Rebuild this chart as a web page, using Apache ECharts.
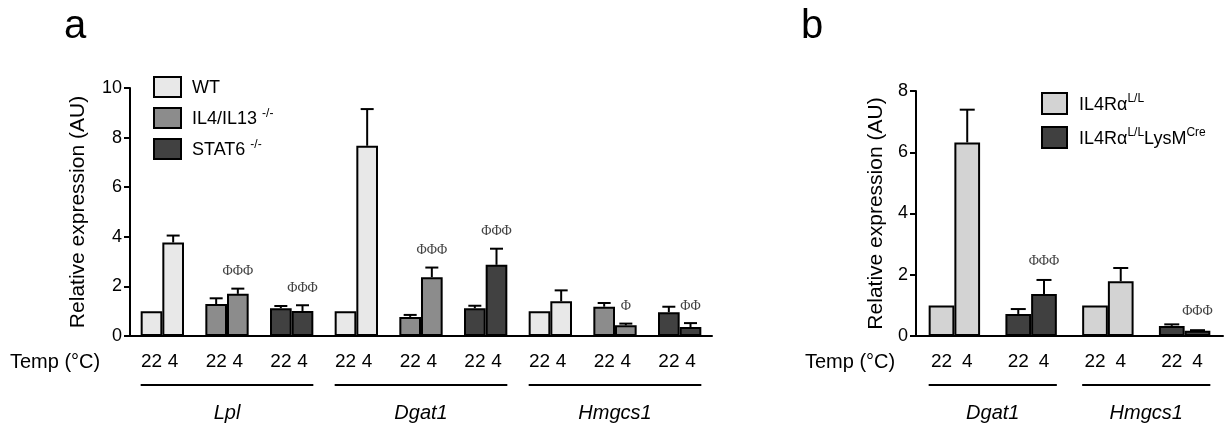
<!DOCTYPE html>
<html><head><meta charset="utf-8">
<script src="https://cdn.jsdelivr.net/npm/echarts@6/dist/echarts.min.js"></script>
<style>html,body{margin:0;padding:0;background:#fff}#c{width:1227px;height:427px}</style>
</head><body><div id="c"></div>
<script>
// ---------- data ----------
const tempLabels = ['22', '4'];
const yTicksA = [0, 2, 4, 6, 8, 10];
const yTicksB = [0, 2, 4, 6, 8];

// Panel a: groups = gene x genotype
const genesA = ['Lpl', 'Dgat1', 'Hmgcs1'];
const genotypesA = ['WT', 'IL4/IL13', 'STAT6'];
const a22 = [1.00, 1.29, 1.12, 1.00, 0.77, 1.12, 1.00, 1.18, 0.96];
const a4 = [3.77, 1.70, 1.01, 7.67, 2.37, 2.87, 1.40, 0.43, 0.36];
const a22Err = [0, 0.23, 0.09, 0, 0.08, 0.10, 0, 0.15, 0.22];
const a4Err = [0.28, 0.21, 0.23, 1.48, 0.39, 0.65, 0.44, 0.07, 0.16];
const a4Sig = ['', 'ΦΦΦ', 'ΦΦΦ', '', 'ΦΦΦ', 'ΦΦΦ', '', 'Φ', 'ΦΦ'];

// Panel b
const genesB = ['Dgat1', 'Hmgcs1'];
const genotypesB = ['IL4Rα L/L', 'IL4Rα L/L LysM Cre'];
const b22 = [1.00, 0.72, 1.00, 0.33];
const b4 = [6.32, 1.37, 1.79, 0.17];
const b22Err = [0, 0.16, 0, 0.05];
const b4Err = [1.07, 0.46, 0.43, 0.02];
const b4Sig = ['', 'ΦΦΦ', '', 'ΦΦΦ'];

// ---------- styles ----------
const colorsA = ['#e8e8e8', '#8c8c8c', '#414141'];
const colorsB = ['#d3d3d3', '#404040'];
const FONT = 'Liberation Sans, Arial, sans-serif';
const GAP = 0.33;

const catsA = genesA.flatMap(g => genotypesA.map(t => g + ' ' + t));
const catsB = genesB.flatMap(g => genotypesB.map(t => g + ' ' + t));

function barSeries(prefix, cats, genotypes, colors, v22, v4, axisIdx) {
  const out = [];
  [v22, v4].forEach((vals, ti) => {
    genotypes.forEach((gname, gi) => {
      out.push({
        type: 'bar', name: gname, stack: prefix + ti,
        xAxisIndex: axisIdx, yAxisIndex: axisIdx,
        barGap: '0%', barCategoryGap: (GAP * 100) + '%',
        data: cats.map((c, i) => (i % genotypes.length === gi ? vals[i] : '-')),
        itemStyle: { color: colors[gi], borderColor: '#000', borderWidth: 2 },
        emphasis: { disabled: true }, z: 2
      });
    });
  });
  return out;
}

function errSeries(cats, v22, v4, e22, e4, sig4, axisIdx, capHalf, sigOffset) {
  const items = [];
  cats.forEach((c, i) => {
    items.push({ value: [i, v22[i], e22[i], 0], sig: '' });
    items.push({ value: [i, v4[i], e4[i], 1], sig: sig4[i] });
  });
  return {
    type: 'custom', xAxisIndex: axisIdx, yAxisIndex: axisIdx, clip: false, z: 5,
    silent: true,
    data: items.map(d => d.value),
    encode: { x: 0, y: 1 },
    renderItem: function (params, api) {
      const cat = api.value(0), v = api.value(1), e = api.value(2), side = api.value(3);
      const band = api.size([1, 0])[0];
      const bw = band * (1 - GAP) / 2;
      const base = api.coord([cat, v]);
      const x = base[0] + (side === 0 ? -bw / 2 : bw / 2);
      const top = api.coord([cat, v + e])[1];
      const ch = [];
      if (e > 0) {
        ch.push({ type: 'line', shape: { x1: x, y1: base[1], x2: x, y2: top }, style: { stroke: '#000', lineWidth: 2 } });
        ch.push({ type: 'line', shape: { x1: x - capHalf, y1: top, x2: x + capHalf, y2: top }, style: { stroke: '#000', lineWidth: 2 } });
      }
      const s = items[params.dataIndex].sig;
      if (s) {
        ch.push({ type: 'text', x: x, y: top - sigOffset, style: { text: s, fontFamily: 'Liberation Serif, serif', fontSize: 14, fill: '#444', align: 'center', verticalAlign: 'middle' } });
      }
      return { type: 'group', children: ch };
    }
  };
}

function geneSeries(genes, perGene, axisIdx) {
  return {
    type: 'custom', xAxisIndex: axisIdx, yAxisIndex: axisIdx, clip: false, silent: true,
    data: genes.map((g, i) => [i * perGene, i * perGene + perGene - 1, 0]),
    encode: { x: [0, 1], y: 2 },
    renderItem: function (params, api) {
      const band = api.size([1, 0])[0];
      const bw = band * (1 - GAP) / 2;
      const p1 = api.coord([api.value(0), 0]);
      const p2 = api.coord([api.value(1), 0]);
      const l = p1[0] - bw, r = p2[0] + bw, y = p1[1] + 49;
      return {
        type: 'group', children: [
          { type: 'line', shape: { x1: l, y1: y, x2: r, y2: y }, style: { stroke: '#000', lineWidth: 2 } },
          { type: 'text', x: (l + r) / 2, y: y + 28, style: { text: genes[params.dataIndex], fontFamily: FONT, fontStyle: 'italic', fontSize: 20, fill: '#000', align: 'center', verticalAlign: 'middle' } }
        ]
      };
    }
  };
}

function yAxis(gi, ticks, name, nameGap) {
  return {
    type: 'value', gridIndex: gi, min: ticks[0], max: ticks[ticks.length - 1],
    interval: ticks[1] - ticks[0],
    name: name, nameLocation: 'middle', nameGap: nameGap,
    nameTextStyle: { fontFamily: FONT, fontSize: 21, color: '#000' },
    axisLine: { show: true, lineStyle: { color: '#000', width: 2 } },
    axisTick: { show: true, length: 6, lineStyle: { color: '#000', width: 2 } },
    axisLabel: { fontFamily: FONT, fontSize: 18, color: '#000', margin: 8 },
    splitLine: { show: false }
  };
}

function xAxis(gi, cats, tokW) {
  return {
    type: 'category', gridIndex: gi, data: cats,
    axisLine: { lineStyle: { color: '#000', width: 2 } },
    axisTick: { show: false },
    axisLabel: {
      interval: 0, margin: 16,
      formatter: () => tempLabels.map(t => '{t|' + t + '}').join(''),
      rich: { t: { width: tokW, align: 'center', fontFamily: FONT, fontSize: 19, color: '#000', lineHeight: 20 } }
    }
  };
}

const supRich = {
  n: { fontFamily: FONT, fontSize: 18, color: '#000', lineHeight: 21, verticalAlign: 'bottom' },
  s: { fontFamily: FONT, fontSize: 12, color: '#000', lineHeight: 21, verticalAlign: 'top' }
};
const legendTextA = { 'WT': '{n|WT}', 'IL4/IL13': '{n|IL4/IL13 }{s|-/-}', 'STAT6': '{n|STAT6 }{s|-/-}' };
const legendTextB = {};
legendTextB[genotypesB[0]] = '{n|IL4Rα}{s|L/L}';
legendTextB[genotypesB[1]] = '{n|IL4Rα}{s|L/L}{n|LysM}{s|Cre}';

const option = {
  animation: false,
  backgroundColor: '#fff',
  grid: [
    { left: 130, right: 515, top: 88, bottom: 91, containLabel: false },
    { left: 916, right: 4, top: 91, bottom: 91, containLabel: false }
  ],
  xAxis: [xAxis(0, catsA, 21.5), xAxis(1, catsB, 25.6)],
  yAxis: [yAxis(0, yTicksA, 'Relative expression (AU)', 41), yAxis(1, yTicksB, 'Relative expression (AU)', 29)],
  legend: [
    {
      data: genotypesA, orient: 'vertical', left: 153, top: 76, padding: 0, itemWidth: 27, itemHeight: 20, itemGap: 9,
      icon: 'rect', selectedMode: false,
      itemStyle: { borderColor: '#000', borderWidth: 2 },
      formatter: n => legendTextA[n],
      textStyle: { padding: [0, 0, 0, 6], rich: supRich }
    },
    {
      data: genotypesB, orient: 'vertical', left: 1041, top: 92, padding: 0, itemWidth: 25, itemHeight: 21, itemGap: 11,
      icon: 'rect', selectedMode: false,
      itemStyle: { borderColor: '#000', borderWidth: 2 },
      formatter: n => legendTextB[n],
      textStyle: { padding: [0, 0, 0, 7], rich: supRich }
    }
  ],
  graphic: [
    { type: 'text', x: 64, y: 27, style: { text: 'a', fontFamily: FONT, fontSize: 40, fill: '#000', verticalAlign: 'middle' } },
    { type: 'text', x: 801, y: 27, style: { text: 'b', fontFamily: FONT, fontSize: 40, fill: '#000', verticalAlign: 'middle' } },
    { type: 'text', x: 10, y: 362, style: { text: 'Temp (°C)', fontFamily: FONT, fontSize: 20, fill: '#000', verticalAlign: 'middle' } },
    { type: 'text', x: 805, y: 362, style: { text: 'Temp (°C)', fontFamily: FONT, fontSize: 20, fill: '#000', verticalAlign: 'middle' } }
  ],
  series: [
    ...barSeries('a', catsA, genotypesA, colorsA, a22, a4, 0),
    ...barSeries('b', catsB, genotypesB, colorsB, b22, b4, 1),
    errSeries(catsA, a22, a4, a22Err, a4Err, a4Sig, 0, 6.5, 17),
    errSeries(catsB, b22, b4, b22Err, b4Err, b4Sig, 1, 7.5, 19),
    geneSeries(genesA, genotypesA.length, 0),
    geneSeries(genesB, genotypesB.length, 1)
  ]
};
const chart = echarts.init(document.getElementById('c'));
chart.setOption(option);
</script>
</body></html>
